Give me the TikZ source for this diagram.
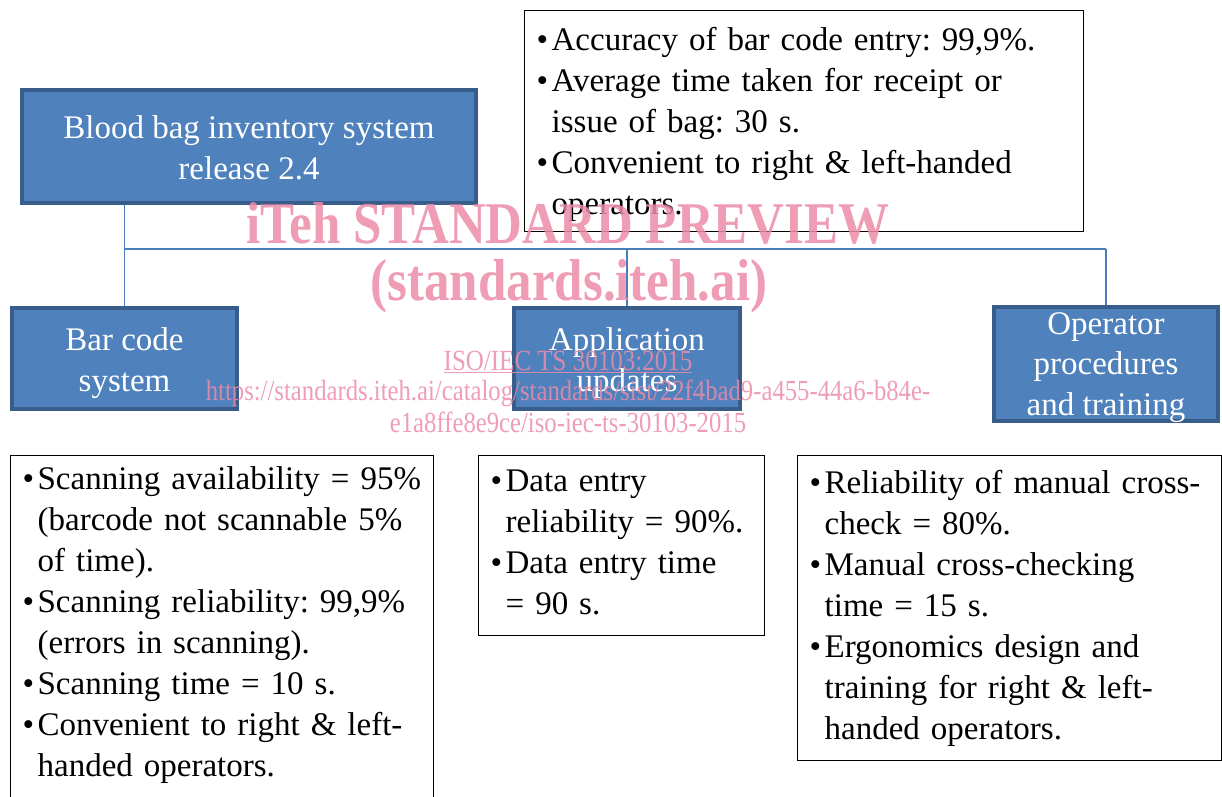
\documentclass[tikz,border=0pt]{standalone}
\usepackage{fontspec}
\setmainfont{Liberation Serif}
\usetikzlibrary{positioning}

\definecolor{boxblue}{RGB}{79,129,189}
\definecolor{boxedge}{RGB}{56,93,138}
\definecolor{linkblue}{RGB}{74,126,187}
\definecolor{wmpink}{RGB}{236,139,168}
\newcommand{\bul}{\makebox[15pt][l]{\textbullet}}
\newcommand{\ind}{\hspace*{15pt}}
\frenchspacing

\begin{document}
\begin{tikzpicture}[x=1pt,y=-1pt,
  unit/.style={draw=boxedge,line width=4pt,fill=boxblue,text=white,align=center,font=\fontsize{33}{40.5}\selectfont,inner sep=2pt,text height=73pt,text depth=8pt},
  req/.style={draw=black,line width=1.3pt,anchor=north west,align=left,font=\fontsize{33}{41}\selectfont,inner xsep=12pt,inner ysep=0pt},
  link/.style={draw=linkblue,line width=1.5pt},
  wm/.style={text=wmpink,opacity=0.85,inner sep=0pt,anchor=base}]
\useasboundingbox (0,0) rectangle (1222,796);
\clip (0,0) rectangle (1222,796);
% system and its three parts
\node[unit,minimum width=454pt,minimum height=113pt] (relbox) at (249,146.5) {Blood bag inventory system\\release 2.4};
\node[unit,minimum width=225pt,minimum height=101pt] (barcode) at (124.5,358.5) {Bar code\\system};
\node[unit,minimum width=226pt,minimum height=101pt] (appupd) at (627,358.5) {Application\\updates};
\node[unit,minimum width=224pt,minimum height=114pt,text height=105pt,text depth=3pt] (opproc) at (1106,364) {Operator\\procedures\\and training};
\coordinate (bus) at (0,249);
\draw[link] (barcode.north) -- (barcode.north |- relbox.south);
\draw[link] (barcode.north |- bus) -- (opproc.north |- bus);
\draw[link] (appupd.north) -- (appupd.north |- bus);
\draw[link] (opproc.north) -- (opproc.north |- bus);
% requirements
\node[req,text width=535pt,text height=40pt,text depth=181pt] (relreq) at (524,10) {\bul Accuracy of bar code entry: 99,9\%.\\
\bul Average time taken for receipt or\\
\ind issue of bag: 30 s.\\
\bul Convenient to right \& left-handed\\
\ind operators.};
\node[req,text width=399pt,text height=34pt,text depth=341pt] (barreq) at (10,455) {\bul Scanning availability = 95\%\\
\ind (barcode not scannable 5\%\\
\ind of time).\\
\bul Scanning reliability: 99,9\%\\
\ind (errors in scanning).\\
\bul Scanning time = 10 s.\\
\bul Convenient to right \& left-\\
\ind handed operators.};
\node[req,text width=262pt,text height=36pt,text depth=144pt] (appreq) at (478,455) {\bul Data entry\\
\ind reliability = 90\%.\\
\bul Data entry time\\
\ind = 90 s.};
\node[req,text width=400pt,text height=38pt,text depth=267pt] (opreq) at (797,455) {\bul Reliability of manual cross-\\
\ind check = 80\%.\\
\bul Manual cross-checking\\
\ind time = 15 s.\\
\bul Ergonomics design and\\
\ind training for right \& left-\\
\ind handed operators.};
% watermark
\node[wm,font=\bfseries\fontsize{51}{51}\selectfont] (wm1) at (568,243) {\scalebox{1}[1.16]{iTeh STANDARD PREVIEW}};
\node[wm,font=\bfseries\fontsize{51}{51}\selectfont] (wm2) at (569,300) {\scalebox{1}[1.16]{(standards.iteh.ai)}};
\node[wm,font=\fontsize{25}{25}\selectfont] (wm3) at (568,370) {\scalebox{1}[1.17]{\underline{ISO/IEC TS 30103:2015}}};
\node[wm,font=\fontsize{24.7}{25}\selectfont] (wm4) at (568,400) {\scalebox{1}[1.18]{https://standards.iteh.ai/catalog/standards/sist/22f4bad9-a455-44a6-b84e-}};
\node[wm,font=\fontsize{24.7}{25}\selectfont] (wm5) at (568,432) {\scalebox{1}[1.18]{e1a8ffe8e9ce/iso-iec-ts-30103-2015}};
\end{tikzpicture}
\end{document}
